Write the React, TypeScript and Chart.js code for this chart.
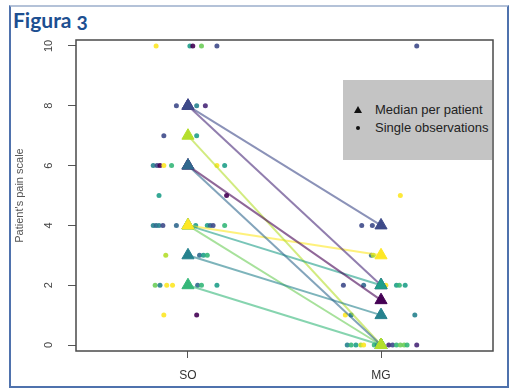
import React, { useEffect, useRef } from "react";
import { Chart, registerables } from "chart.js";

Chart.register(...registerables);

// ---- data ----
const groupLabels = ["SO", "MG"];
const yTickValues = [0, 2, 4, 6, 8, 10];
const palette = [
  "#440154", "#482878", "#3E4A89", "#31688E", "#26828E",
  "#1F9E89", "#35B779", "#6DCD59", "#B4DE2C", "#FDE725",
];
// median per patient (patient i uses palette[i])
const medianSO = [6, 8, 8, 6, 3, 4, 2, 4, 7, 4];
const medianMG = [1.5, 2, 4, 0, 1, 2, 0, 0, 0, 3];

// single observations, SO group (jittered x, value, patient colour index)
const obsSOx = [
  0.835, 1.01, 1.025, 1.07, 1.15,
  0.94, 1.045, 1.09,
  0.875, 1.045,
  0.82, 0.84, 0.855, 0.875, 0.915, 1.15, 1.19,
  0.85, 1.2,
  0.82, 0.835, 0.85, 0.87, 0.94, 1.04, 1.1, 1.115, 1.13, 1.19,
  0.885, 1.06, 1.08, 1.1,
  0.83, 0.855, 0.89, 0.92, 1.05, 1.07, 1.15,
  0.875, 1.045,
];
const obsSOy = [
  10, 10, 10, 10, 10,
  8, 8, 8,
  7, 7,
  6, 6, 6, 6, 6, 6, 6,
  5, 5,
  4, 4, 4, 4, 4, 4, 4, 4, 4, 4,
  3, 3, 3, 3,
  2, 2, 2, 2, 2, 2, 2,
  1, 1,
];
const obsSOc = [
  9, 5, 0, 7, 2,
  2, 4, 1,
  2, 5,
  4, 2, 0, 9, 6, 9, 5,
  5, 0,
  4, 3, 4, 2, 3, 5, 5, 3, 2, 6,
  8, 3, 5, 6,
  7, 4, 9, 9, 3, 6, 5,
  9, 0,
];

// single observations, MG group
const obsMGx = [
  2.185,
  2.1,
  1.9, 1.955,
  1.95, 1.96,
  1.805, 1.91, 2.025, 2.08, 2.095, 2.125,
  1.815, 1.845, 2.175,
  1.825, 1.845, 1.87, 1.895, 1.91, 1.965, 1.98, 2.04, 2.06, 2.08, 2.1, 2.12, 2.135, 2.185,
];
const obsMGy = [
  10,
  5,
  4, 4,
  3, 3,
  2, 2, 2, 2, 2, 2,
  1, 1, 1,
  0, 0, 0, 0, 0, 0, 0, 0, 0, 0, 0, 0, 0, 0,
];
const obsMGc = [
  2,
  9,
  2, 2,
  3, 8,
  2, 3, 9, 5, 6, 5,
  9, 4, 4,
  4, 6, 5, 8, 9, 6, 4, 1, 2, 6, 7, 7, 6, 1,
];

const legendLabels = ["Median per patient", "Single observations"];
const yTitle = "Patient's pain scale";
const figureTitle = "Figura 3";

function withAlpha(hex: string, a: number) {
  const n = parseInt(hex.slice(1), 16);
  return `rgba(${(n >> 16) & 255},${(n >> 8) & 255},${n & 255},${a})`;
}

const boxPlugin = {
  id: "plotBox",
  afterDraw(chart: any) {
    const { ctx, chartArea } = chart;
    ctx.save();
    ctx.strokeStyle = "#4a4a4a";
    ctx.lineWidth = 1.5;
    ctx.strokeRect(chartArea.left, chartArea.top, chartArea.right - chartArea.left, chartArea.bottom - chartArea.top);
    ctx.restore();
  },
};

const FONT = "'Liberation Sans', Arial, sans-serif";

export default function App() {
  const ref = useRef<HTMLCanvasElement>(null);

  useEffect(() => {
    if (!ref.current) return;

    const obsData = [
      ...obsSOx.map((x, i) => ({ x, y: obsSOy[i] })),
      ...obsMGx.map((x, i) => ({ x, y: obsMGy[i] })),
    ];
    const obsColors = [...obsSOc, ...obsMGc].map((c) => withAlpha(palette[c], 0.9));

    const lineSets = medianSO.map((so, i) => ({
      type: "scatter" as const,
      data: [
        { x: 1, y: so },
        { x: 2, y: medianMG[i] },
      ],
      showLine: true,
      borderColor: withAlpha(palette[i], 0.6),
      borderWidth: 2,
      pointRadius: 0,
      order: 1,
    }));

    const triData = [
      ...medianSO.map((y) => ({ x: 1, y })),
      ...medianMG.map((y) => ({ x: 2, y })),
    ];
    const triColors = [...palette, ...palette];

    const chart = new Chart(ref.current, {
      type: "scatter",
      data: {
        datasets: [
          {
            data: triData,
            pointStyle: "triangle",
            pointRadius: 7,
            pointBackgroundColor: triColors,
            pointBorderColor: triColors,
            pointBorderWidth: 1,
            order: 0,
          },
          ...lineSets,
          {
            data: obsData,
            pointStyle: "circle",
            pointRadius: 2.5,
            pointBackgroundColor: obsColors,
            pointBorderColor: obsColors,
            pointBorderWidth: 0,
            order: 2,
          },
        ] as any,
      },
      options: {
        responsive: false,
        animation: false,
        events: [],
        layout: { padding: { left: 9, top: 40, right: 24, bottom: 0 } },
        plugins: { legend: { display: false }, tooltip: { enabled: false } },
        scales: {
          x: {
            type: "linear",
            min: 0.42,
            max: 2.58,
            afterBuildTicks: (s: any) => {
              s.ticks = [{ value: 1 }, { value: 2 }];
            },
            afterFit: (s: any) => {
              s.height = 39;
            },
            ticks: {
              callback: (v: any) => groupLabels[Math.round(Number(v)) - 1] ?? "",
              font: { family: FONT, size: 12 },
              color: "#333",
              padding: 10,
              maxRotation: 0,
              autoSkip: false,
            },
            grid: {
              drawOnChartArea: false,
              drawTicks: true,
              tickLength: 7,
              color: "#555",
            },
            border: { display: false },
          },
          y: {
            type: "linear",
            min: -0.2,
            max: 10.2,
            afterBuildTicks: (s: any) => {
              s.ticks = yTickValues.map((v) => ({ value: v }));
            },
            afterFit: (s: any) => {
              s.width = 67;
            },
            ticks: {
              font: { family: FONT, size: 11 },
              color: "#444",
              minRotation: 90,
              maxRotation: 90,
              crossAlign: "center",
              padding: 13,
              autoSkip: false,
            },
            grid: {
              drawOnChartArea: false,
              drawTicks: true,
              tickLength: 8,
              color: "#555",
            },
            border: { display: false },
            title: {
              display: true,
              text: yTitle,
              font: { family: FONT, size: 11 },
              color: "#555",
              padding: { top: 4, bottom: 0 },
            },
          },
        },
      },
      plugins: [boxPlugin],
    } as any);

    return () => chart.destroy();
  }, []);

  return (
    <div style={{ position: "absolute", left: 0, top: 0, width: 517, height: 390, background: "#fff", overflow: "hidden" }}>
      <div
        style={{
          position: "absolute",
          left: 9,
          top: 5,
          width: 496,
          height: 379,
          border: "2px solid #4f72ad",
          borderTopColor: "#b4c2d8",
        }}
      />
      <div
        style={{
          position: "absolute",
          left: 13,
          top: 7,
          font: "bold 21px Lato, 'Open Sans', sans-serif",
          lineHeight: "25px",
          color: "#1d4f91",
          fontVariantNumeric: "oldstyle-nums",
          whiteSpace: "nowrap",
        }}
      >
        {figureTitle}
      </div>
      <canvas ref={ref} width={517} height={390} style={{ position: "absolute", left: 0, top: 0, width: 517, height: 390 }} />
      <div
        style={{
          position: "absolute",
          left: 343,
          top: 80,
          width: 149,
          height: 80,
          background: "#c4c4c4",
          fontFamily: FONT,
          fontSize: 13,
          color: "#222",
        }}
      >
        <div
          style={{
            position: "absolute",
            left: 11,
            top: 26,
            width: 0,
            height: 0,
            borderLeft: "4px solid transparent",
            borderRight: "4px solid transparent",
            borderBottom: "7px solid #111",
          }}
        />
        <div style={{ position: "absolute", left: 32, top: 22, lineHeight: "15px", whiteSpace: "nowrap" }}>{legendLabels[0]}</div>
        <div style={{ position: "absolute", left: 13, top: 46, width: 4, height: 4, borderRadius: 2, background: "#111" }} />
        <div style={{ position: "absolute", left: 32, top: 40, lineHeight: "15px", whiteSpace: "nowrap" }}>{legendLabels[1]}</div>
      </div>
    </div>
  );
}
